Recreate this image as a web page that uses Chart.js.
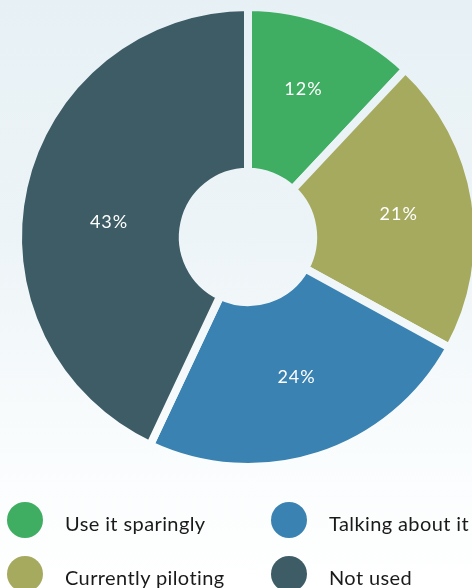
<!DOCTYPE html>
<html>
<head>
<meta charset="utf-8">
<script src="https://cdn.jsdelivr.net/npm/chart.js@4/dist/chart.umd.min.js"></script>
<style>
  html, body { margin: 0; padding: 0; width: 472px; height: 588px; overflow: hidden; }
  body { background: linear-gradient(180deg, #e7f1f5 0%, #edf4f7 40%, #f9fcfd 75%, #ffffff 100%); position: relative; font-family: Lato, "Open Sans", sans-serif; }
  #wrap { position: absolute; left: 0; top: 0; width: 496px; height: 474px; }
  #legend { position: absolute; left: 0; top: 0; width: 472px; height: 588px; pointer-events: none; }
  .item { position: absolute; display: flex; align-items: center; font-size: 20px; color: #1a1a1a; letter-spacing: 0.4px; white-space: nowrap; }
  .dot { width: 36px; height: 36px; border-radius: 50%; margin-right: 22px; flex: none; }
  .txt { padding-top: 5px; }
</style>
</head>
<body>
<div id="wrap"><canvas id="c"></canvas></div>
<div id="legend"></div>
<script>
const categories = ["Use it sparingly", "Currently piloting", "Talking about it", "Not used"];
const values = [12, 21, 24, 43];
const colors = ["#3fae62", "#a5aa5f", "#3a82b2", "#3d5c66"];
const labelTexts = ["12%", "21%", "24%", "43%"];

const valueLabels = {
  id: 'valueLabels',
  afterDatasetsDraw(chart) {
    const ctx = chart.ctx;
    const meta = chart.getDatasetMeta(0);
    // small hand placement tweaks, as in the original artwork
    const nudge = [[0, -8], [2, 1], [2, -3], [8, 18]];
    ctx.save();
    ctx.fillStyle = '#ffffff';
    ctx.font = '18px Lato, "Open Sans", sans-serif';
    ctx.textAlign = 'center';
    ctx.textBaseline = 'middle';
    if (ctx.letterSpacing !== undefined) ctx.letterSpacing = '1px';
    meta.data.forEach((arc, i) => {
      const p = arc.getProps(['x','y','startAngle','endAngle','innerRadius','outerRadius'], true);
      const mid = (p.startAngle + p.endAngle) / 2;
      const r = (p.innerRadius + p.outerRadius) / 2 + 3;
      const n = nudge[i] || [0, 0];
      ctx.fillText(labelTexts[i], p.x + Math.cos(mid) * r + n[0], p.y + Math.sin(mid) * r + n[1]);
    });
    ctx.restore();
  }
};

function bgGradient(context) {
  const chart = context.chart;
  const g = chart.ctx.createLinearGradient(0, 0, 0, 588);
  g.addColorStop(0, '#e7f1f5');
  g.addColorStop(0.4, '#edf4f7');
  g.addColorStop(0.75, '#f9fcfd');
  g.addColorStop(1, '#ffffff');
  return g;
}

new Chart(document.getElementById('c'), {
  type: 'doughnut',
  data: {
    labels: categories,
    datasets: [{
      data: values,
      backgroundColor: colors,
      borderWidth: 8,
      borderColor: bgGradient,
      borderAlign: 'center',
      hoverOffset: 0
    }]
  },
  options: {
    responsive: true,
    maintainAspectRatio: false,
    animation: false,
    radius: 230,
    cutout: 66,
    layout: { padding: 0 },
    plugins: { legend: { display: false }, tooltip: { enabled: false } }
  },
  plugins: [valueLabels]
});

const legend = document.getElementById('legend');
const pos = [[7, 502], [7, 556], [271, 502], [271, 556]];
categories.forEach((name, i) => {
  const d = document.createElement('div');
  d.className = 'item';
  d.style.left = pos[i][0] + 'px';
  d.style.top = pos[i][1] + 'px';
  d.innerHTML = '<span class="dot" style="background:' + colors[i] + '"></span><span class="txt">' + name + '</span>';
  legend.appendChild(d);
});
</script>
</body>
</html>
